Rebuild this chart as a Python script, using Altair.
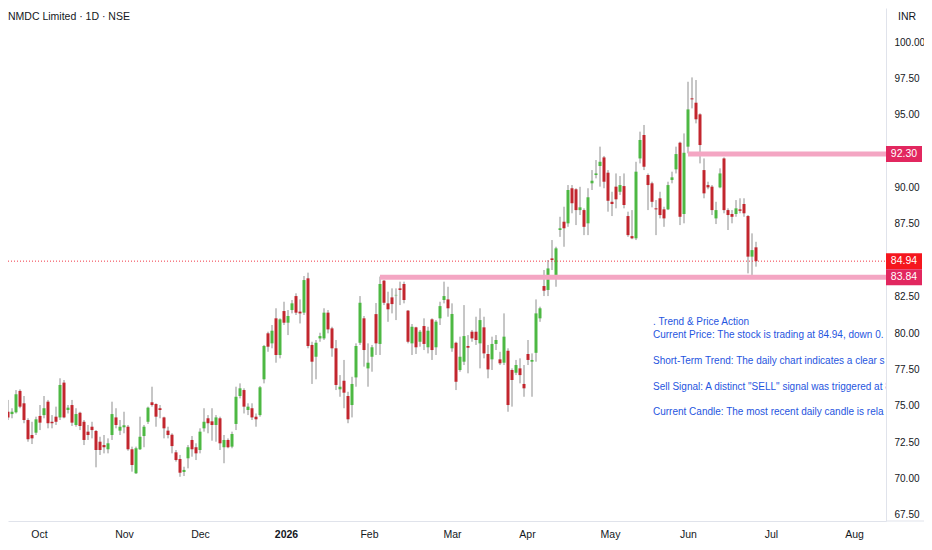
import altair as alt
import pandas as pd

# ---- candle data ----
opens = [73.40, 73.45, 74.59, 74.43, 74.55, 76.02, 75.17, 74.02, 72.99, 73.15,
         74.30, 74.36, 75.28, 73.90, 74.25, 74.20, 76.59, 74.71, 75.05, 73.68,
         74.52, 73.90, 73.22, 73.56, 73.27, 72.53, 72.30, 72.01, 72.99, 74.20,
         73.29, 73.52, 73.56, 72.01, 70.36, 72.01, 72.92, 73.90, 75.24, 75.12,
         74.83, 74.20, 73.29, 73.01, 71.80, 71.34, 70.45, 71.39, 72.65, 72.15,
         71.96, 73.45, 74.14, 73.93, 73.68, 74.14, 72.15, 72.65, 72.19, 73.75,
         75.67, 76.08, 74.71, 74.83, 74.25, 74.36, 76.82, 79.98, 79.29, 81.01,
         78.49, 81.51, 80.71, 81.58, 82.54, 81.47, 81.40, 83.76, 79.18, 78.37,
         79.63, 79.63, 81.40, 80.32, 78.95, 76.13, 76.72, 75.67, 75.05, 76.95,
         79.33, 81.01, 77.57, 78.37, 81.30, 79.25, 83.60, 82.04, 82.45, 82.59,
         83.07, 83.37, 81.54, 79.29, 80.39, 79.40, 80.48, 79.02, 80.94, 79.02,
         81.01, 82.27, 82.31, 78.95, 79.33, 77.46, 78.03, 79.11, 80.09, 80.09,
         79.29, 80.39, 78.56, 78.19, 79.25, 78.19, 77.96, 78.78, 77.46, 77.27,
         77.57, 76.50, 78.56, 78.03, 78.64, 81.01, 83.23, 82.96, 85.13, 83.83,
         87.08, 87.65, 87.54, 89.95, 89.88, 88.45, 88.45, 87.54, 90.29, 90.86,
         91.48, 92.07, 91.02, 89.02, 90.06, 89.71, 90.10, 88.04, 86.66, 86.51,
         92.00, 93.61, 90.86, 90.29, 88.57, 89.26, 88.50, 88.50, 90.52, 91.25,
         93.08, 88.18, 92.81, 96.13, 95.83, 95.03, 91.20, 90.17, 90.06, 87.88,
         90.01, 92.00, 88.45, 88.18, 88.18, 88.50, 88.87, 88.04, 85.25, 85.89]
highs = [73.75, 74.83, 75.40, 74.83, 76.08, 76.13, 75.67, 74.14, 73.90, 74.25,
         75.05, 75.67, 75.40, 74.36, 74.94, 76.89, 76.77, 75.05, 75.40, 74.83,
         74.59, 74.02, 73.68, 73.90, 73.33, 72.87, 72.99, 72.76, 75.28, 74.83,
         74.02, 74.59, 73.68, 72.19, 72.19, 74.25, 73.68, 74.94, 76.31, 75.17,
         75.05, 74.25, 73.56, 73.11, 71.96, 71.62, 70.81, 72.30, 72.92, 72.42,
         73.45, 74.83, 74.36, 74.83, 74.36, 74.25, 72.99, 72.76, 73.22, 76.31,
         76.54, 76.20, 75.17, 75.17, 74.47, 76.36, 79.18, 80.09, 80.55, 81.70,
         81.01, 82.15, 81.58, 82.27, 82.73, 82.31, 83.92, 84.15, 79.40, 79.52,
         80.02, 81.70, 81.58, 80.43, 79.52, 77.11, 78.15, 75.96, 76.99, 79.29,
         82.54, 81.17, 79.29, 79.18, 82.06, 83.88, 83.64, 82.84, 83.07, 83.07,
         83.53, 83.53, 81.58, 80.62, 80.43, 80.21, 81.01, 80.43, 81.01, 80.89,
         82.15, 83.53, 83.18, 82.04, 79.40, 79.75, 81.92, 79.86, 80.21, 81.12,
         81.70, 81.12, 79.18, 79.75, 79.86, 78.71, 81.35, 78.95, 77.57, 78.15,
         78.26, 77.80, 79.52, 78.60, 82.31, 81.81, 84.33, 85.02, 86.39, 85.93,
         87.99, 88.68, 90.17, 90.17, 89.95, 90.05, 88.57, 89.95, 91.20, 91.89,
         92.81, 92.17, 91.20, 89.71, 90.97, 90.79, 90.97, 88.34, 88.45, 91.77,
         93.84, 94.30, 90.97, 90.40, 89.14, 89.71, 88.68, 90.40, 91.09, 92.81,
         93.15, 93.72, 97.27, 97.57, 97.39, 95.10, 92.00, 90.40, 90.17, 89.02,
         91.32, 92.07, 88.57, 88.45, 89.14, 89.26, 89.26, 88.11, 86.85, 86.27]
lows = [73.20, 73.22, 74.02, 74.14, 74.47, 74.83, 73.80, 72.53, 72.37, 72.99,
        73.33, 74.14, 73.45, 73.45, 73.68, 74.02, 74.14, 74.47, 73.61, 73.56,
        73.33, 72.30, 72.65, 72.76, 70.77, 71.62, 71.73, 71.73, 72.65, 73.45,
        72.99, 73.11, 71.91, 70.47, 70.31, 71.96, 72.15, 73.75, 74.94, 73.56,
        74.14, 72.76, 72.76, 71.73, 71.16, 70.12, 70.17, 70.70, 71.50, 71.27,
        71.73, 73.22, 73.11, 72.60, 72.53, 71.96, 71.05, 72.08, 72.08, 73.33,
        75.51, 74.47, 74.36, 74.02, 73.56, 74.25, 76.54, 78.71, 78.95, 77.96,
        78.26, 80.55, 79.86, 81.35, 81.24, 80.66, 81.24, 78.95, 76.50, 76.82,
        79.40, 79.52, 79.98, 78.37, 76.08, 75.62, 74.83, 73.80, 74.20, 76.31,
        79.18, 77.69, 76.31, 77.34, 78.49, 78.49, 81.92, 80.77, 81.35, 80.89,
        81.92, 82.04, 79.29, 78.49, 78.56, 79.06, 78.83, 78.60, 78.15, 78.49,
        80.55, 82.04, 81.12, 78.71, 76.08, 77.34, 77.80, 77.23, 79.40, 79.18,
        77.57, 78.26, 76.89, 77.46, 78.83, 77.80, 77.80, 74.59, 74.94, 77.11,
        76.54, 75.62, 77.80, 75.62, 78.03, 80.77, 82.54, 82.54, 84.33, 83.18,
        86.61, 85.93, 87.30, 88.23, 87.42, 88.11, 86.73, 86.73, 89.83, 90.63,
        90.06, 89.95, 88.34, 88.04, 88.57, 89.49, 88.57, 86.61, 86.45, 86.39,
        91.66, 91.20, 88.45, 88.64, 86.73, 87.88, 87.30, 88.45, 90.29, 90.97,
        87.42, 87.54, 92.35, 95.44, 94.41, 91.66, 89.26, 89.88, 88.11, 87.49,
        89.95, 88.23, 87.08, 87.54, 87.99, 88.23, 87.99, 84.10, 83.99, 84.56]
closes = [73.54, 74.41, 74.20, 74.59, 75.79, 74.94, 74.02, 72.70, 72.76, 74.07,
          73.84, 74.83, 73.80, 73.80, 73.90, 76.43, 74.20, 74.87, 73.84, 74.43,
          73.61, 72.65, 72.99, 73.33, 71.96, 71.96, 72.15, 72.42, 74.43, 73.68,
          73.56, 73.66, 72.01, 70.93, 72.08, 72.87, 73.56, 74.87, 75.05, 74.25,
          74.71, 73.45, 72.99, 72.23, 71.27, 70.40, 70.59, 72.15, 72.01, 71.73,
          73.22, 73.90, 73.80, 73.68, 74.20, 72.42, 72.65, 72.15, 73.06, 75.62,
          76.20, 74.94, 74.94, 74.20, 74.07, 76.27, 79.11, 79.06, 80.16, 78.49,
          80.94, 80.71, 81.17, 82.04, 81.40, 81.35, 83.64, 79.11, 78.03, 79.33,
          79.79, 81.40, 80.25, 78.95, 76.43, 76.31, 75.90, 74.07, 76.50, 79.11,
          82.08, 78.83, 77.96, 79.02, 79.29, 83.37, 82.08, 81.63, 81.99, 82.62,
          82.96, 82.27, 79.40, 80.43, 79.02, 80.09, 79.25, 80.16, 78.83, 80.78,
          81.85, 82.54, 81.70, 81.31, 76.65, 78.37, 79.79, 78.99, 79.63, 79.52,
          80.89, 78.60, 77.50, 79.25, 79.52, 77.92, 79.75, 75.05, 76.77, 77.80,
          77.11, 76.20, 78.15, 78.15, 81.35, 81.70, 82.91, 84.44, 85.02, 85.82,
          87.20, 87.20, 89.83, 88.92, 88.45, 88.64, 87.30, 89.33, 90.47, 90.97,
          91.77, 90.40, 89.09, 88.87, 89.19, 90.17, 88.80, 86.73, 86.51, 91.09,
          93.27, 91.43, 90.17, 89.02, 88.50, 88.11, 87.88, 90.17, 90.70, 92.30,
          87.99, 92.39, 95.37, 96.06, 94.69, 92.92, 89.60, 90.01, 88.45, 88.45,
          90.97, 88.45, 88.11, 87.99, 88.57, 88.40, 88.23, 85.25, 85.70, 84.94]

month_labels = ["Oct", "Nov", "Dec", "2026", "Feb", "Mar", "Apr", "May", "Jun", "Jul", "Aug"]
month_pos = [9.75, 31, 50, 71.5, 92.25, 113, 131.75, 152.5, 172, 192.75, 213.5]
price_ticks = [67.5, 70, 72.5, 75, 77.5, 80, 82.5, 87.5, 90, 95, 97.5, 100]

level_prices = [92.30, 83.84]
level_start = [172, 95]
last_price = 84.94
tag_prices = [92.30, 84.94, 83.84]
tag_colors = ["#E2275F", "#F5161E", "#E2275F"]

title_text = "NMDC Limited \u00b7 1D \u00b7 NSE"
note_lines = [
    ". Trend & Price Action",
    "Current Price: The stock is trading at 84.94, down 0.",
    "Short-Term Trend: The daily chart indicates a clear s",
    "Sell Signal: A distinct \"SELL\" signal was triggered at 8",
    "Current Candle: The most recent daily candle is rela",
]

# ---- styling ----
W, H = 878, 513
GREEN, RED, WICK = "#4DB843", "#C2262E", "#8E8E8E"
TXT = "#131722"
FONT = "Liberation Sans, Arial, sans-serif"

df = pd.DataFrame({"i": list(range(len(opens))), "open": opens, "high": highs,
                   "low": lows, "close": closes})
df["dir"] = ["up" if c >= o else "down" for o, c in zip(opens, closes)]

label_expr = ("[" + ",".join("'%s'" % m for m in month_labels) + "][indexof(["
              + ",".join(str(p) for p in month_pos) + "], datum.value)]")

xscale = alt.Scale(domain=[2, 221.5], nice=False, zero=False, padding=0)
yscale = alt.Scale(domain=[67.08, 102.34], nice=False, zero=False, padding=0)
xaxis = alt.Axis(title=None, values=month_pos, labelExpr=label_expr, ticks=False,
                 grid=False, domainColor="#E0E3EB", labelColor=TXT, labelFontSize=10.5,
                 labelFont=FONT, labelPadding=8,
                 labelFontWeight=alt.ExprRef("datum.value == 71.5 ? 'bold' : 'normal'"))
yaxis = alt.Axis(title=None, orient="right", values=price_ticks, format=".2f", ticks=False,
                 grid=False, domainColor="#E0E3EB", labelColor=TXT, labelFontSize=10,
                 labelFont=FONT, labelPadding=8, labelAlign="left")


def X(f):
    return alt.X(f, scale=xscale, axis=xaxis)


def Y(f):
    return alt.Y(f, scale=yscale, axis=yaxis)


base = alt.Chart(df)
wicks = base.mark_rule(strokeWidth=1, clip=True, color=WICK).encode(
    x=X("i:Q"), y=Y("low:Q"), y2="high:Q")
bodies = base.mark_bar(size=3, clip=True).encode(
    x=X("i:Q"), y=Y("open:Q"), y2="close:Q",
    color=alt.Color("dir:N", scale=alt.Scale(domain=["up", "down"], range=[GREEN, RED]),
                    legend=None))

lvl = pd.DataFrame({"price": level_prices, "start": level_start})
levels = alt.Chart(lvl).mark_rule(strokeWidth=5, color="#F4A6C3", clip=True).encode(
    x=X("start:Q"), x2=alt.value(W), y=Y("price:Q"))

lastdf = pd.DataFrame({"price": [last_price]})
lastline = alt.Chart(lastdf).mark_rule(strokeWidth=1, color="#F23645",
                                        strokeDash=[1, 2], clip=True).encode(
    x=alt.value(0), x2=alt.value(W), y=Y("price:Q"))

tags = pd.DataFrame({"price": tag_prices, "col": tag_colors,
                     "label": ["%.2f" % p for p in tag_prices]})
tag_rect = alt.Chart(tags).transform_calculate(
    top="datum.price + 0.55", bot="datum.price - 0.55").mark_rect().encode(
    x=alt.value(W), x2=alt.value(W + 36), y=Y("top:Q"), y2="bot:Q",
    color=alt.Color("col:N", scale=None))
tag_text = alt.Chart(tags).mark_text(color="white", fontSize=10.5, font=FONT,
                                     align="center", baseline="middle").encode(
    x=alt.value(W + 18), y=Y("price:Q"), text="label:N")

axis_ext = alt.Chart(lastdf).mark_rule(color="#E0E3EB", strokeWidth=1).encode(
    x=alt.value(W), x2=alt.value(W + 38), y=alt.value(H))

layers = [wicks, bodies, levels, lastline, tag_rect, tag_text, axis_ext]

note_y = [314, 327, 353, 379, 404]
for line, yy in zip(note_lines, note_y):
    layers.append(alt.Chart(pd.DataFrame({"t": [line]})).mark_text(
        align="left", baseline="middle", fontSize=10, font=FONT, color="#1F55E0",
        clip=True).encode(x=alt.value(645), y=alt.value(yy), text="t:N"))

layers.append(alt.Chart(pd.DataFrame({"t": [title_text]})).mark_text(
    align="left", baseline="middle", fontSize=10.5, font=FONT, color=TXT).encode(
    x=alt.value(0), y=alt.value(9), text="t:N"))
layers.append(alt.Chart(pd.DataFrame({"t": ["INR"]})).mark_text(
    align="left", baseline="middle", fontSize=10.5, font=FONT, color=TXT).encode(
    x=alt.value(W + 12), y=alt.value(9), text="t:N"))

chart = alt.layer(*layers).properties(
    width=W, height=H, background="white",
    autosize=alt.AutoSizeParams(type="none"),
    padding={"left": 0, "top": 0, "right": 38, "bottom": 20},
).configure_view(stroke=None)

chart.save("out.html", embed_options={"renderer": "svg", "actions": False})
